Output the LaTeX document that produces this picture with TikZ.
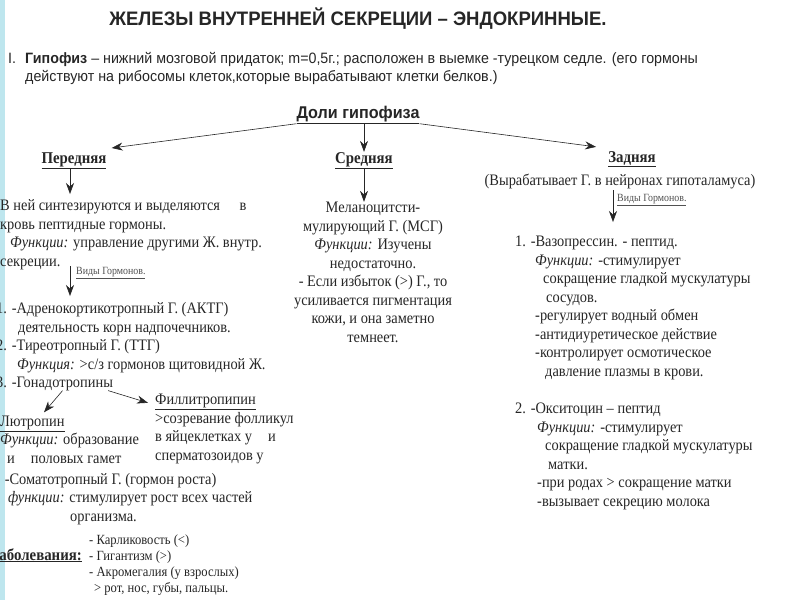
\documentclass[tikz,border=0pt]{standalone}
\usepackage{fontspec}
\setmainfont[FakeStretch=0.9]{Liberation Serif}
\newfontfamily\narrowsans[FakeStretch=0.95]{Liberation Sans}
\usetikzlibrary{arrows.meta}

\definecolor{ink}{RGB}{38,38,38}
\definecolor{edgeband}{RGB}{190,230,238}

\tikzset{
  body/.style={font=\fontsize{16}{18.5}\selectfont, text=ink, inner sep=0pt, align=left, anchor=base west},
  smalltxt/.style={font=\fontsize{14}{16}\selectfont, text=ink, inner sep=0pt, align=left, anchor=base west},
  tag/.style={font=\fontsize{11}{12}\selectfont, text=ink!80, inner sep=0pt, anchor=base west},
  lobe/.style={font=\bfseries\fontsize{16.5}{18}\selectfont, text=ink, inner sep=0pt, anchor=base},
  head/.style={font=\narrowsans\fontsize{15}{18}\selectfont, text=ink, inner sep=0pt, align=left, anchor=base west},
  arr/.style={draw=ink, line width=0.6pt, -{Stealth[length=11pt,width=8pt]}},
}

\begin{document}
\begin{tikzpicture}[x=1pt, y=-1pt]
  \useasboundingbox (0,0) rectangle (800,600);
  \clip (0,0) rectangle (800,600);
  \fill[white] (0,0) rectangle (800,600);
  \fill[edgeband] (0,0) rectangle (5,600);

  % heading
  \node[font=\narrowsans\bfseries\fontsize{19.5}{22}\selectfont, text=ink, inner sep=0pt, anchor=base] (title) at (358,25) {ЖЕЛЕЗЫ ВНУТРЕННЕЙ СЕКРЕЦИИ – ЭНДОКРИННЫЕ.};
  \node[head] (roman) at (8,63) {I.};
  \node[head] (pit) at (25,81) {\textbf{Гипофиз} – нижний мозговой придаток; m=0,5г.; расположен в выемке -турецком седле. (его гормоны\\действуют на рибосомы клеток,которые вырабатывают клетки белков.)};

  % lobes
  \node[font=\narrowsans\bfseries\fontsize{17}{20}\selectfont, text=ink, inner sep=0pt, anchor=base] (lobes) at (358,118) {\underline{Доли гипофиза}};
  \node[lobe] (front) at (74,163) {\underline{Передняя}};
  \node[lobe] (middle) at (364,163) {\underline{Средняя}};
  \node[lobe] (back) at (632,162) {\underline{Задняя}};
  \node[body, anchor=base] (backnote) at (620,185) {(Вырабатывает Г. в нейронах гипоталамуса)};

  \draw[arr] (lobes.south west) -- ([shift={(5,-4)}]front.north east);
  \draw[arr] (lobes.south -| middle) -- (middle.north);
  \draw[arr] (lobes.south east) -- ([shift={(-12,-4)}]back.north west);

  % anterior lobe
  \node[body] (synth) at (0,266) {В ней синтезируются и выделяются\quad\ в\\кровь пептидные гормоны.\\\hspace*{10pt}\textit{Функции:} управление другими Ж. внутр.\\секреции.};
  \coordinate (colL) at (70,194);
  \draw[arr] (front.south -| colL) -- (colL);
  \coordinate (kindsL) at (70,266);
  \coordinate (kindsLend) at (70,296);
  \draw[arr] (kindsL) -- (kindsLend);
  \node[tag] (kindsLtxt) at (76,274) {\underline{Виды Гормонов.}};

  \node[body] (acth) at (-4,332) {1. -Адренокортикотропный Г. (АКТГ)\\\hspace*{22pt}деятельность корн надпочечников.};
  \node[body] (tsh) at (-4,369) {2. -Тиреотропный Г. (ТТГ)\\\hspace*{21pt}\textit{Функция:} >с/з гормонов щитовидной Ж.};
  \node[body] (gonado) at (-4,387) {3. -Гонадотропины};
  \node[body] (fsh) at (155,460) {\underline{Филлитропипин}\\>созревание фолликул\\в яйцеклетках у\quad и\\сперматозоидов у};
  \node[body] (lh) at (0,463) {\underline{Лютропин}\\\textit{Функции:} образование\\\hspace*{7pt}и\quad половых гамет};
  \draw[arr] ([xshift=-5pt]gonado.south east) -- ([shift={(-7,9)}]fsh.north west);
  \draw[arr] ([xshift=8pt]gonado.south) -- ([shift={(44,-3)}]lh.north west);

  \node[body] (stg) at (-11,521) {4. -Соматотропный Г. (гормон роста)\\\hspace*{19pt}\textit{функции:} стимулирует рост всех частей\\\hspace*{81pt}организма.};
  \node[smalltxt, font=\bfseries\fontsize{16.5}{18}\selectfont, anchor=base east] (ill) at (82,560) {\underline{Заболевания:}};
  \node[smalltxt] (illlist) at (89,592) {- Карликовость (<)\\- Гигантизм (>)\\- Акромегалия (у взрослых)\\\hspace*{5pt}> рот, нос, губы, пальцы.};

  % intermediate lobe
  \node[body, align=center, anchor=base] (msh) at (373,342) {Меланоцитсти-\\мулирующий Г. (МСГ)\\\textit{Функции:} Изучены\\недостаточно.\\- Если избыток (>) Г., то\\усиливается пигментация\\кожи, и она заметно\\темнеет.};
  \draw[arr] (middle.south) -- (middle.south |- msh.north);

  % posterior lobe
  \coordinate (kindsR) at (613,190);
  \coordinate (kindsRend) at (613,222);
  \draw[arr] (kindsR) -- (kindsRend);
  \node[tag] (kindsRtxt) at (617,201) {\underline{Виды Гормонов.}};
  \node[body] (vaso) at (515,376) {1. -Вазопрессин. - пептид.\\\hspace*{20pt}\textit{Функции:} -стимулирует\\\hspace*{28pt}сокращение гладкой мускулатуры\\\hspace*{31pt}сосудов.\\\hspace*{20pt}-регулирует водный обмен\\\hspace*{20pt}-антидиуретическое действие\\\hspace*{20pt}-контролирует осмотическое\\\hspace*{30pt}давление плазмы в крови.};
  \node[body] (oxy) at (515,506) {2. -Окситоцин – пептид\\\hspace*{22pt}\textit{Функции:} -стимулирует\\\hspace*{30pt}сокращение гладкой мускулатуры\\\hspace*{33pt}матки.\\\hspace*{22pt}-при родах > сокращение матки\\\hspace*{22pt}-вызывает секрецию молока};
\end{tikzpicture}
\end{document}
